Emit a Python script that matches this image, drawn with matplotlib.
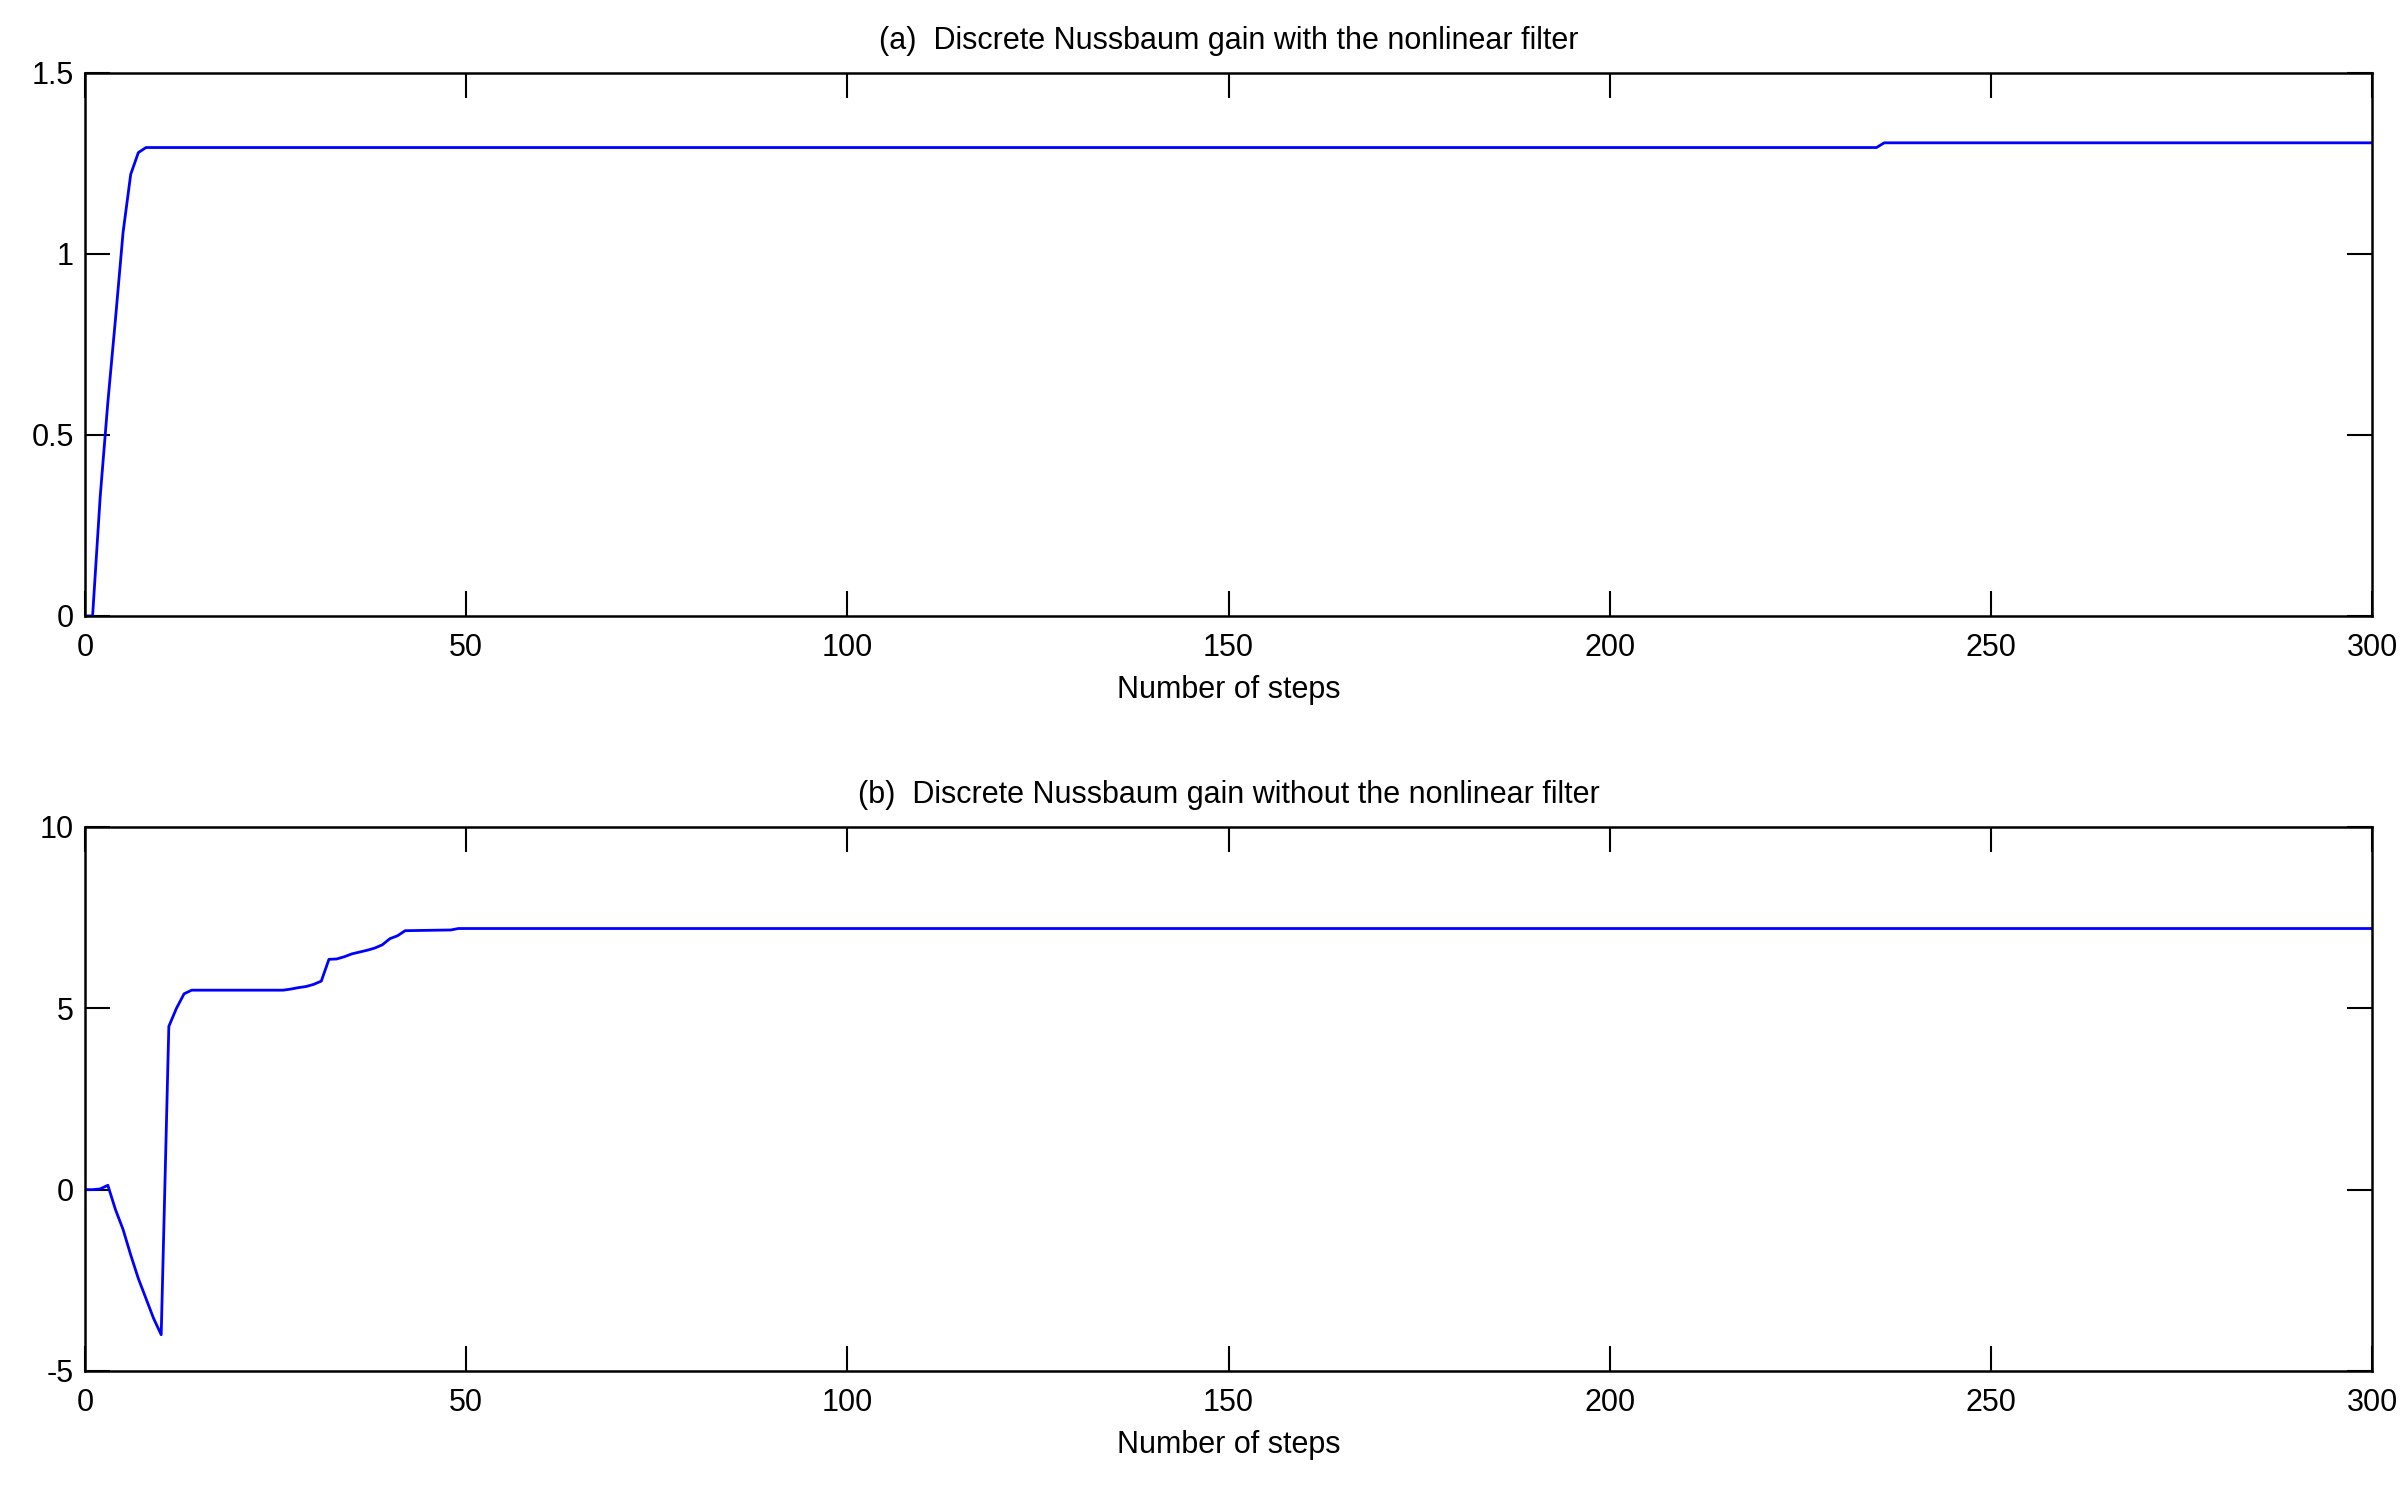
import numpy as np
import matplotlib
matplotlib.use('Agg')
import matplotlib.pyplot as plt

# (a) gain with the nonlinear filter
steps_a = [0, 1, 2, 3, 4, 5, 6, 7, 8, 235, 236, 300]
gain_a = [0, 0, 0.33, 0.59, 0.82, 1.06, 1.22, 1.28, 1.294, 1.294, 1.307, 1.307]

# (b) gain without the nonlinear filter
steps_b = [0, 1, 2, 3, 4, 5, 6, 7, 8, 9, 10, 11, 12, 13, 14, 26, 27, 28, 29, 30,
           31, 32, 33, 34, 35, 36, 37, 38, 39, 40, 41, 42, 48, 49, 300]
gain_b = [0, 0, 0.02, 0.12, -0.55, -1.1, -1.8, -2.45, -3.0, -3.55, -4.0, 4.5, 5.0, 5.4, 5.5, 5.5,
          5.53, 5.57, 5.6, 5.66, 5.75, 6.35, 6.36, 6.42, 6.5, 6.55, 6.6, 6.66, 6.75, 6.92,
          7.0, 7.14, 7.16, 7.2, 7.2]

titles = ['(a)  Discrete Nussbaum gain with the nonlinear filter',
          '(b)  Discrete Nussbaum gain without the nonlinear filter']
xticks = [0, 50, 100, 150, 200, 250, 300]
yticks_a = [0, 0.5, 1, 1.5]
yticks_b = [-5, 0, 5, 10]

plt.rcParams['font.family'] = ['Liberation Sans Narrow', 'Liberation Sans', 'DejaVu Sans']
plt.rcParams['axes.unicode_minus'] = False
fs = 22

fig = plt.figure(figsize=(24.07, 14.86), dpi=100)
ax1 = fig.add_axes([0.0353, 0.5855, 0.9502, 0.3654])
ax2 = fig.add_axes([0.0353, 0.0774, 0.9502, 0.3661])

panels = [(ax1, steps_a, gain_a, yticks_a, ['0', '0.5', '1', '1.5'], titles[0]),
          (ax2, steps_b, gain_b, yticks_b, ['-5', '0', '5', '10'], titles[1])]
for ax, x, y, yt, ytl, t in panels:
    ax.plot(x, y, color='#0000ff', lw=2)
    ax.set_xlim(0, 300)
    ax.set_ylim(yt[0], yt[-1])
    ax.set_xticks(xticks)
    ax.set_xticklabels([str(v) for v in xticks], fontsize=fs)
    ax.set_yticks(yt)
    ax.set_yticklabels(ytl, fontsize=fs)
    ax.tick_params(direction='in', length=18, width=1.5, top=True, right=True)
    ax.tick_params(axis='x', pad=12)
    ax.tick_params(axis='y', pad=8)
    for s in ax.spines.values():
        s.set_linewidth(1.8)
    ax.set_title(t, fontsize=fs, pad=17)
    ax.set_xlabel('Number of steps', fontsize=fs, labelpad=9)

fig.savefig('out.png', dpi=100)
